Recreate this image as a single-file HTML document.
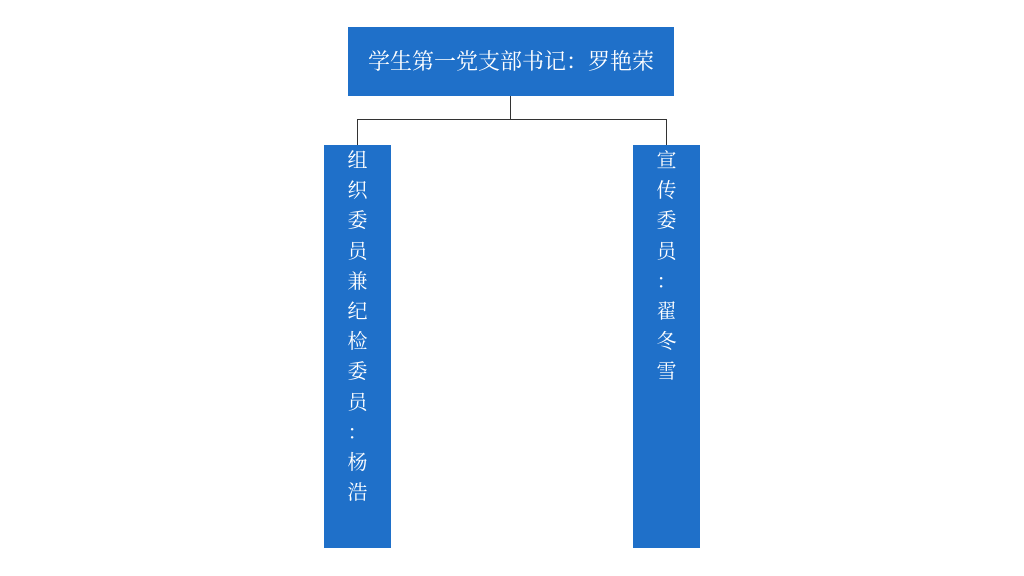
<!DOCTYPE html>
<html><head><meta charset="utf-8"><style>
body{margin:0;width:1024px;height:576px;background:#fff;position:relative;overflow:hidden;font-family:"Liberation Serif","Noto Serif CJK SC",serif;color:#fff}
.b{position:absolute;background:#1f70c9}
.top{left:348px;top:27px;width:326px;height:69px;font-size:22px;line-height:69px;text-align:center}
.col{top:145px;width:67px;height:403px;font-size:20px;line-height:30.2px;text-align:center;padding-top:0}
.col div{height:30.2px}
.l{position:absolute;background:#333}
</style></head><body>
<div class="b top">学生第一党支部书记：罗艳荣</div>
<div class="l" style="left:510px;top:96px;width:1px;height:24px"></div>
<div class="l" style="left:357px;top:119px;width:310px;height:1px"></div>
<div class="l" style="left:357px;top:119px;width:1px;height:26px"></div>
<div class="l" style="left:666px;top:119px;width:1px;height:26px"></div>
<div class="b col" style="left:324px;padding-top:1px;height:402px"><div>组</div><div>织</div><div>委</div><div>员</div><div>兼</div><div>纪</div><div>检</div><div>委</div><div>员</div><div>：</div><div>杨</div><div>浩</div></div>
<div class="b col" style="left:633px;padding-top:1px;height:402px"><div>宣</div><div>传</div><div>委</div><div>员</div><div>：</div><div>翟</div><div>冬</div><div>雪</div></div>
</body></html>
